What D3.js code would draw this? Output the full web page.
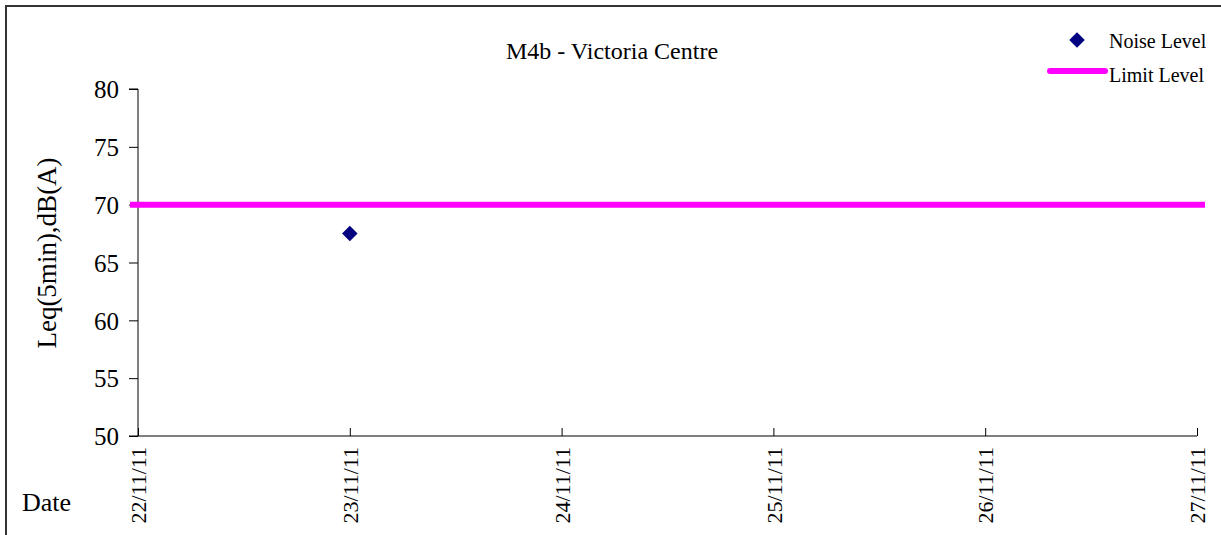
<!DOCTYPE html>
<html>
<head>
<meta charset="utf-8">
<script src="https://cdn.jsdelivr.net/npm/d3@7"></script>
<style>
  body { margin: 0; background: #fff; }
  text { font-family: "Liberation Serif", "DejaVu Serif", serif; fill: #000; }
</style>
</head>
<body>
<svg id="chart" width="1221" height="535"></svg>
<script>
// chart data
var tickDates = ["2011-11-22", "2011-11-23", "2011-11-24", "2011-11-25", "2011-11-26", "2011-11-27"];
var noiseDates = ["2011-11-23"];
var noiseValues = [67.5];
var limitValue = 70;
var yTicks = [50, 55, 60, 65, 70, 75, 80];

var parse = d3.timeParse("%Y-%m-%d");
var plotLeft = 138, plotRight = 1197, plotTop = 89, plotBottom = 436;

var svg = d3.select("#chart");

// outer frame (left + top edges)
svg.append("path")
  .attr("d", "M6,535 V6 H1221")
  .attr("fill", "none")
  .attr("stroke", "#333")
  .attr("stroke-width", 2);

var x = d3.scaleTime()
  .domain([parse(tickDates[0]), parse(tickDates[tickDates.length - 1])])
  .range([plotLeft, plotRight]);

var y = d3.scaleLinear()
  .domain([50, 80])
  .range([plotBottom, plotTop]);

// y axis
var yAxis = svg.append("g")
  .attr("transform", "translate(" + plotLeft + ",0)")
  .call(d3.axisLeft(y).tickValues(yTicks).tickSize(9).tickPadding(10));
yAxis.selectAll("text")
  .style("font-size", "25px")
  .attr("dy", "0.35em");
yAxis.select(".domain").attr("d", "M-9," + plotTop + "H0V" + plotBottom + "H-9");

// x axis (ticks point up into the plot)
var xAxis = svg.append("g")
  .attr("transform", "translate(0," + plotBottom + ")")
  .call(d3.axisBottom(x)
    .tickValues(tickDates.map(parse))
    .tickFormat(d3.timeFormat("%d/%m/%y"))
    .tickSizeInner(-8)
    .tickSizeOuter(0));
xAxis.select(".domain").attr("d", "M" + plotLeft + ",0H" + plotRight);
xAxis.selectAll("text")
  .style("font-size", "22px")
  .attr("text-anchor", "end")
  .attr("transform", "rotate(-90)")
  .attr("x", -11)
  .attr("y", 0)
  .attr("dy", "0.35em");

// limit line
svg.append("line")
  .attr("x1", x(parse(tickDates[0])) - 8)
  .attr("x2", x(parse(tickDates[tickDates.length - 1])) + 8)
  .attr("y1", y(limitValue))
  .attr("y2", y(limitValue))
  .attr("stroke", "#ff00ff")
  .attr("stroke-width", 6);

// noise points
var diamond = d3.symbol().type(d3.symbolSquare).size(120);
svg.selectAll(".pt")
  .data(noiseDates.map(function(d, i) { return { date: parse(d), value: noiseValues[i] }; }))
  .enter().append("path")
    .attr("class", "pt")
    .attr("d", diamond)
    .attr("fill", "#000080")
    .attr("transform", function(d) { return "translate(" + x(d.date) + "," + y(d.value) + ") rotate(45)"; });

// title
svg.append("text")
  .attr("x", 612)
  .attr("y", 59)
  .attr("text-anchor", "middle")
  .style("font-size", "24px")
  .text("M4b - Victoria Centre");

// y axis title
svg.append("text")
  .attr("transform", "translate(56,253) rotate(-90)")
  .attr("text-anchor", "middle")
  .style("font-size", "27px")
  .text("Leq(5min),dB(A)");

// x axis title
svg.append("text")
  .attr("x", 22)
  .attr("y", 511)
  .style("font-size", "26px")
  .text("Date");

// legend
var lg = svg.append("g");
lg.append("path")
  .attr("d", diamond)
  .attr("fill", "#000080")
  .attr("transform", "translate(1077,40) rotate(45)");
lg.append("text")
  .attr("x", 1109).attr("y", 48)
  .style("font-size", "20px")
  .text("Noise Level");
lg.append("line")
  .attr("x1", 1050).attr("x2", 1105)
  .attr("y1", 71).attr("y2", 71)
  .attr("stroke", "#ff00ff")
  .attr("stroke-width", 6)
  .attr("stroke-linecap", "round");
lg.append("text")
  .attr("x", 1109).attr("y", 82)
  .style("font-size", "20px")
  .text("Limit Level");
</script>
</body>
</html>
